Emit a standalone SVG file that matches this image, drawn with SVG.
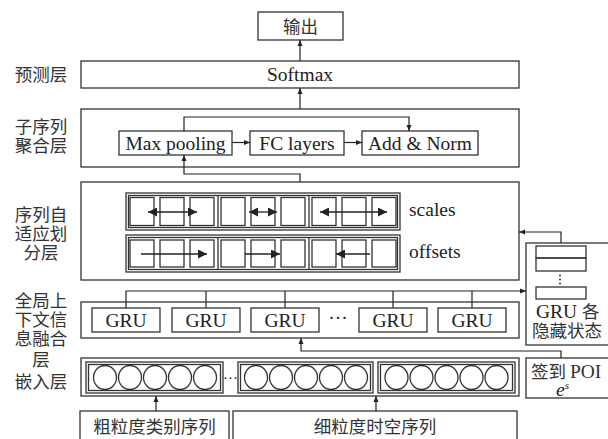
<svg xmlns="http://www.w3.org/2000/svg" width="608" height="439" viewBox="0 0 608 439">
<style>
.b{fill:#fff;stroke:#333;stroke-width:1.3}
.c{fill:none;stroke:#333;stroke-width:1.3}
.t{font-family:"Liberation Serif","Noto Sans CJK SC",serif;font-size:19.5px;fill:#222}
.m{text-anchor:middle}
.cj{font-family:"Noto Sans CJK SC","Liberation Serif",sans-serif;font-size:17.5px;fill:#333}
.ar{fill:none;stroke:#222;stroke-width:1.2;marker-end:url(#a)}
.big{fill:none;stroke:#222;stroke-width:1.3}
</style>
<defs>
<marker id="a" markerUnits="userSpaceOnUse" markerWidth="7" markerHeight="6" refX="6" refY="3" orient="auto"><path d="M0,0.5 L6,3 L0,5.5 z" fill="#222"/></marker>
<marker id="b" markerUnits="userSpaceOnUse" markerWidth="10" markerHeight="9" refX="9" refY="4.5" orient="auto-start-reverse"><path d="M0,0 L9,4.5 L0,9 z" fill="#222"/></marker>
</defs>
<rect width="608" height="439" fill="#fff"/>

<g id="labels">
<text class="cj m" x="41" y="81">预测层</text>
<text class="cj m" x="41" y="133">子序列</text>
<text class="cj m" x="41" y="152">聚合层</text>
<text class="cj m" x="41" y="221">序列自</text>
<text class="cj m" x="41" y="240">适应划</text>
<text class="cj m" x="41" y="259">分层</text>
<text class="cj m" x="41" y="307">全局上</text>
<text class="cj m" x="41" y="326">下文信</text>
<text class="cj m" x="41" y="345">息融合</text>
<text class="cj m" x="41" y="366">层</text>
<text class="cj m" x="41" y="388">嵌入层</text>
</g>

<g id="output">
<rect class="b" x="258" y="12" width="85" height="28"/>
<text class="cj m" x="300.5" y="32.5">输出</text>
</g>

<g id="softmax">
<rect class="b" x="81" y="61" width="438" height="27"/>
<text class="t m" x="300" y="81">Softmax</text>
</g>

<g id="aggregation">
<rect class="b" x="81" y="109" width="438" height="58"/>
<g id="maxpool"><rect class="b" x="119" y="131" width="113" height="24"/><text class="t m" x="175.5" y="149.5">Max pooling</text></g>
<g id="fc"><rect class="b" x="250" y="131" width="94" height="24"/><text class="t m" x="297" y="149.5">FC layers</text></g>
<g id="addnorm"><rect class="b" x="362" y="131" width="116" height="24"/><text class="t m" x="420" y="149.5">Add &amp; Norm</text></g>
</g>

<g id="adaptive">
<rect class="b" x="81" y="182" width="438" height="98"/>
<g id="scales">
<rect class="b" x="126" y="193" width="274" height="37"/>
<rect class="c" x="128.5" y="195.5" width="269" height="32"/>
<g class="c">
<rect x="130" y="197.5" width="24" height="28"/><rect x="160" y="197.5" width="24" height="28"/><rect x="190" y="197.5" width="24" height="28"/>
<rect x="221" y="197.5" width="24" height="28"/><rect x="251" y="197.5" width="24" height="28"/><rect x="281" y="197.5" width="24" height="28"/>
<rect x="312" y="197.5" width="24" height="28"/><rect x="342" y="197.5" width="24" height="28"/><rect x="372" y="197.5" width="24" height="28"/>
</g>
<path class="c" d="M218,195.5 V227.5 M309,195.5 V227.5"/>
<text class="t" x="409" y="216">scales</text>
</g>
<g id="offsets">
<rect class="b" x="126" y="235" width="274" height="37"/>
<rect class="c" x="128.5" y="237.5" width="269" height="32"/>
<g class="c">
<rect x="130" y="240" width="24" height="27"/><rect x="160" y="240" width="24" height="27"/><rect x="190" y="240" width="24" height="27"/>
<rect x="221" y="240" width="24" height="27"/><rect x="251" y="240" width="24" height="27"/><rect x="281" y="240" width="24" height="27"/>
<rect x="312" y="240" width="24" height="27"/><rect x="342" y="240" width="24" height="27"/><rect x="372" y="240" width="24" height="27"/>
</g>
<path class="c" d="M218,237.5 V269.5 M309,237.5 V269.5"/>
<text class="t" x="409" y="258">offsets</text>
</g>
</g>

<g id="hidden">
<rect class="b" x="526" y="243" width="100" height="102"/>
<rect class="c" x="536" y="246" width="50" height="12"/>
<rect class="c" x="536" y="258" width="50" height="13"/>
<g fill="#333"><circle cx="560" cy="275.5" r="1"/><circle cx="560" cy="279.5" r="1"/><circle cx="560" cy="283.5" r="1"/></g>
<rect class="c" x="536" y="287" width="50" height="12"/>
<text class="t" x="536" y="318">GRU <tspan class="cj">各</tspan></text>
<text class="cj" x="532" y="337">隐藏状态</text>
</g>

<g id="gru">
<rect class="b" x="81" y="302" width="438" height="36"/>
<g id="gru1"><rect class="b" x="92" y="308" width="68" height="24"/><text class="t m" x="126" y="327">GRU</text></g>
<g id="gru2"><rect class="b" x="172" y="308" width="68" height="24"/><text class="t m" x="206" y="327">GRU</text></g>
<g id="gru3"><rect class="b" x="251" y="308" width="68" height="24"/><text class="t m" x="285" y="327">GRU</text></g>
<text class="t m" x="338" y="324">···</text>
<g id="gru4"><rect class="b" x="359" y="308" width="68" height="24"/><text class="t m" x="393" y="327">GRU</text></g>
<g id="gru5"><rect class="b" x="438" y="308" width="68" height="24"/><text class="t m" x="472" y="327">GRU</text></g>
</g>

<g id="embedding">
<rect class="b" x="81" y="358" width="438" height="38"/>
<rect class="b" x="86" y="362" width="137" height="31"/><rect class="c" x="88.5" y="364.5" width="132" height="26"/>
<rect class="b" x="238" y="362" width="135" height="31"/><rect class="c" x="240.5" y="364.5" width="130" height="26"/>
<rect class="b" x="378" y="362" width="137" height="31"/><rect class="c" x="380.5" y="364.5" width="132" height="26"/>
<g class="c">
<ellipse cx="105" cy="377.5" rx="11.5" ry="12"/><ellipse cx="130" cy="377.5" rx="11.5" ry="12"/><ellipse cx="155" cy="377.5" rx="11.5" ry="12"/><ellipse cx="180" cy="377.5" rx="11.5" ry="12"/><ellipse cx="205" cy="377.5" rx="11.5" ry="12"/>
<ellipse cx="256" cy="377.5" rx="11.5" ry="12"/><ellipse cx="281" cy="377.5" rx="11.5" ry="12"/><ellipse cx="306" cy="377.5" rx="11.5" ry="12"/><ellipse cx="331" cy="377.5" rx="11.5" ry="12"/><ellipse cx="356" cy="377.5" rx="11.5" ry="12"/>
<ellipse cx="396.5" cy="377.5" rx="11.5" ry="12"/><ellipse cx="421.5" cy="377.5" rx="11.5" ry="12"/><ellipse cx="446.5" cy="377.5" rx="11.5" ry="12"/><ellipse cx="471.5" cy="377.5" rx="11.5" ry="12"/><ellipse cx="496.5" cy="377.5" rx="11.5" ry="12"/>
</g>
<text class="t m" x="230.5" y="383" style="font-size:15px">···</text>
</g>

<g id="poi">
<rect class="b" x="526" y="358" width="100" height="40"/>
<text class="cj" x="531" y="378">签到 <tspan style="font-family:'Liberation Serif',serif;font-size:19.5px">POI</tspan></text>
<text class="t" x="556" y="396" font-style="italic">e<tspan font-size="11" dy="-7">s</tspan></text>
</g>

<g id="input-coarse">
<rect class="b" x="80" y="411" width="149" height="40"/>
<text class="cj m" x="154.5" y="433">粗粒度类别序列</text>
</g>
<g id="input-fine">
<rect class="b" x="233" y="411" width="284" height="40"/>
<text class="cj m" x="375" y="433">细粒度时空序列</text>
</g>

<g id="connectors">
<path class="ar" d="M300,61 V40"/>
<path class="ar" d="M300,109 V88"/>
<path class="ar" d="M232,142.5 H250"/>
<path class="ar" d="M344,142.5 H362"/>
<path class="ar" d="M184,131 V117 H409 V131"/>
<path class="ar" d="M300,182 V174 H184 V155"/>
<path class="ar" d="M561,243 V232 H519"/>
<path class="ar" d="M126,308 V291 H526"/>
<path class="c" d="M206,308 V291 M285,308 V291 M393,308 V291 M472,308 V291"/>
<path class="ar" d="M561,358 V351 H301 V338"/>
<path class="ar" d="M156,411 V396"/>
<path class="ar" d="M376,411 V396"/>
<g class="big" marker-start="url(#b)" marker-end="url(#b)">
<path d="M148,212 H197"/><path d="M249,212 H277"/><path d="M320,212 H387"/>
</g>
<g class="big" marker-end="url(#b)">
<path d="M141,254 H207"/><path d="M245,254 H280"/><path d="M370,254 H336"/>
</g>
</g>
</svg>
